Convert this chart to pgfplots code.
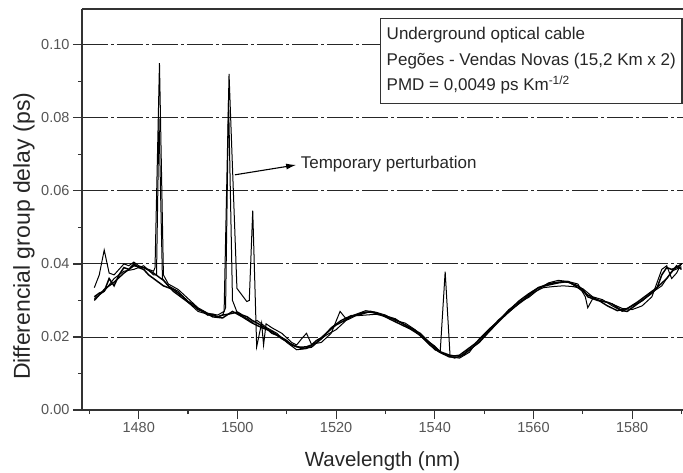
\documentclass[border=0pt]{standalone}
\usepackage{pgfplots}
\pgfplotsset{compat=1.18}
\usepackage{pgfplotstable}
\usetikzlibrary{arrows.meta}
\usepackage{fontspec}
\setmainfont{Liberation Sans}
\definecolor{axgray}{HTML}{333333}
\definecolor{tickgray}{HTML}{555555}

\pgfplotstableread{
x y
1471 0.031
1472 0.032
1473 0.0325
1474 0.036
1475 0.034
1476 0.037
1477 0.039
1478 0.0385
1479 0.040
1480 0.039
1481 0.0385
1482 0.037
1483 0.036
1484 0.035
1485 0.034
1486 0.0335
1487 0.033
1488 0.032
1489 0.031
1490 0.0297
1491 0.029
1492 0.0275
1493 0.027
1494 0.026
1495 0.0262
1496 0.0255
1497 0.026
1498 0.0262
1499 0.0265
1500 0.0268
1501 0.026
1502 0.0255
1503 0.0245
1504 0.0238
1505 0.023
1506 0.0222
1507 0.021
1508 0.0205
1509 0.0198
1510 0.019
1511 0.0178
1512 0.0173
1513 0.0172
1514 0.0173
1515 0.0178
1516 0.019
1517 0.0198
1518 0.021
1519 0.0222
1520 0.0233
1521 0.024
1522 0.0247
1523 0.0255
1524 0.026
1525 0.0265
1526 0.0268
1527 0.0268
1528 0.0265
1529 0.026
1530 0.0256
1531 0.0252
1532 0.0247
1533 0.024
1534 0.0233
1535 0.0226
1536 0.0218
1537 0.021
1538 0.0197
1539 0.0183
1540 0.0172
1541 0.016
1542 0.0155
1543 0.015
1544 0.0148
1545 0.015
1546 0.016
1547 0.017
1548 0.018
1549 0.0192
1550 0.0205
1551 0.0219
1552 0.0233
1553 0.0247
1554 0.0258
1555 0.0269
1556 0.028
1557 0.0292
1558 0.0303
1559 0.0315
1560 0.0325
1561 0.0335
1562 0.034
1563 0.0345
1564 0.0348
1565 0.035
1566 0.0351
1567 0.035
1568 0.0345
1569 0.034
1570 0.033
1571 0.031
1572 0.0305
1573 0.030
1574 0.0298
1575 0.0295
1576 0.029
1577 0.028
1578 0.0272
1579 0.027
1580 0.028
1581 0.029
1582 0.030
1583 0.031
1584 0.032
1585 0.0333
1586 0.037
1587 0.039
1588 0.0385
1589 0.039
1590 0.040
}\seriesA

\pgfplotstableread{
x y
1471 0.030
1473 0.033
1475 0.035
1477 0.0375
1479 0.0395
1481 0.039
1483 0.0375
1485 0.0355
1487 0.0325
1489 0.0305
1491 0.0285
1493 0.027
1495 0.0255
1497 0.0252
1499 0.027
1501 0.0255
1503 0.0238
1505 0.0225
1507 0.0215
1509 0.0195
1511 0.018
1513 0.0168
1515 0.0172
1517 0.0195
1519 0.0225
1521 0.0245
1523 0.0258
1525 0.0262
1527 0.027
1529 0.0262
1531 0.0248
1533 0.0235
1535 0.0222
1537 0.0205
1539 0.0178
1541 0.0158
1543 0.0145
1545 0.0145
1547 0.0165
1549 0.0185
1551 0.0215
1553 0.0245
1555 0.0272
1557 0.0298
1559 0.0318
1561 0.0335
1563 0.0342
1565 0.0348
1567 0.0352
1569 0.0335
1571 0.0315
1573 0.0302
1575 0.0285
1577 0.0272
1579 0.0278
1581 0.0295
1583 0.0315
1585 0.0335
1587 0.036
1589 0.0395
1590 0.0385
}\seriesB

\pgfplotstableread{
x y
1471 0.0335
1472 0.037
1473 0.0438
1474 0.0375
1475 0.037
1476 0.0385
1477 0.040
1478 0.0395
1479 0.0405
1480 0.0395
1481 0.039
1482 0.0385
1483 0.038
1483.3 0.039
1484.2 0.095
1485 0.037
1486 0.0345
1488 0.033
1490 0.0305
1492 0.028
1494 0.0265
1496 0.026
1497.3 0.027
1498.3 0.092
1499.9 0.0333
1501.9 0.0297
1502.4 0.030
1503.1 0.0546
1503.9 0.0173
1504.9 0.0238
1505.3 0.0178
1505.8 0.0236
1507 0.0225
1509 0.021
1511 0.0185
1512 0.0178
1513 0.0195
1514 0.021
1515 0.018
1517 0.0185
1519 0.021
1520.8 0.027
1522 0.025
1524 0.0262
1526 0.0272
1528 0.0268
1530 0.026
1532 0.0245
1534 0.0238
1536 0.022
1538 0.0195
1540 0.0175
1541.1 0.016
1542.1 0.0379
1543.1 0.0146
1545 0.0142
1547 0.0158
1549 0.0195
1551 0.0222
1553 0.0245
1555 0.0275
1557 0.0295
1559 0.0308
1561 0.033
1563 0.0348
1565 0.0355
1567 0.0352
1569 0.0345
1570.5 0.031
1571 0.028
1572 0.0305
1574 0.0298
1576 0.029
1578 0.0278
1580 0.0275
1582 0.0285
1584 0.031
1586 0.0385
1587 0.0395
1588 0.036
1589 0.0375
1590 0.0402
}\seriesC

\pgfplotstableread{
x y
1471 0.0305
1473 0.0325
1475 0.036
1477 0.038
1479 0.0385
1481 0.0395
1483 0.037
1483.6 0.037
1484.1 0.080
1484.8 0.036
1486 0.034
1488 0.0325
1490 0.0295
1492 0.027
1494 0.0262
1496 0.0255
1497 0.026
1497.6 0.028
1498.2 0.085
1499 0.030
1500 0.0265
1502 0.025
1503 0.024
1504 0.0245
1506 0.0225
1508 0.021
1510 0.0185
1512 0.0165
1514 0.0168
1516 0.0185
1518 0.0205
1520 0.022
1522 0.0245
1524 0.0258
1526 0.026
1528 0.0262
1530 0.0258
1532 0.025
1534 0.0232
1536 0.0215
1538 0.0192
1540 0.0165
1542 0.0152
1544 0.0142
1546 0.0152
1548 0.0175
1550 0.02
1552 0.0228
1554 0.0255
1556 0.028
1558 0.030
1560 0.0322
1562 0.0335
1564 0.0338
1566 0.034
1568 0.0338
1570 0.0332
1572 0.031
1574 0.0302
1576 0.0285
1578 0.027
1580 0.0285
1582 0.0298
1584 0.0322
1586 0.034
1588 0.038
1590 0.0392
}\seriesD

\begin{document}
\begin{tikzpicture}
\path[use as bounding box] (-82pt,-62pt) rectangle (601pt,410pt);
\begin{axis}[
  scale only axis,
  width=601pt, height=401pt,
  xmin=1468.5, xmax=1590.3,
  ymin=0, ymax=0.1098,
  axis x line*=box, axis y line*=left,
  axis line style={axgray, line width=1.4pt},
  xtick={1480,1500,...,1580},
  minor xtick={1470,1490,...,1590},
  xtick pos=bottom,
  ytick={0,0.02,...,0.10},
  yticklabels={0.00,0.02,0.04,0.06,0.08,0.10},
  minor ytick={0.01,0.03,...,0.09},
  tick align=outside,
  major tick length=9pt,
  minor tick length=4pt,
  tick style={axgray, line width=1.2pt},
  /pgf/number format/assume math mode=true,
  /pgf/number format/1000 sep={},
  ticklabel style={font=\fontsize{14.5}{16}\selectfont, text=tickgray},
  ymajorgrids,
  major grid style={black!85, line width=0.9pt, dash pattern=on 26pt off 3pt on 3pt off 3pt},
  xlabel={Wavelength (nm)},
  ylabel={Differencial group delay (ps)},
  label style={text=black!85},
  xlabel style={font=\fontsize{20.5}{24}\selectfont, at={(axis description cs:0.5,-0.128)}, anchor=center},
  ylabel style={font=\fontsize{23}{26}\selectfont, at={(axis description cs:-0.0965,0.433)}, anchor=center, rotate=0},
  clip=true,
]
\addplot[black, line width=1.5pt] table {\seriesA};
\addplot[black, line width=1.4pt] table {\seriesB};
\addplot[black, line width=1.0pt] table {\seriesC};
\addplot[black, line width=1.0pt] table {\seriesD};

\draw[-{Latex[length=10pt,width=6pt]}, line width=1.1pt, black] (axis cs:1499.5,0.0644) -- (axis cs:1511.9,0.0671);
\node[anchor=west, font=\fontsize{17}{19}\selectfont, text=black!85, inner sep=0pt] at (axis cs:1512.8,0.0673) {Temporary perturbation};

\node[draw=axgray, line width=1.4pt, anchor=north west, fill=white,
      minimum width=301pt,
      inner xsep=6pt, inner ysep=9pt, align=left,
      font=\fontsize{17}{25.5}\selectfont, text=black!85]
  at (axis cs:1528.9,0.1074)
  {Underground optical cable\\Pegões - Vendas Novas (15,2 Km x 2)\\PMD = 0,0049 ps Km\textsuperscript{-1/2}};
\end{axis}
\end{tikzpicture}
\end{document}
